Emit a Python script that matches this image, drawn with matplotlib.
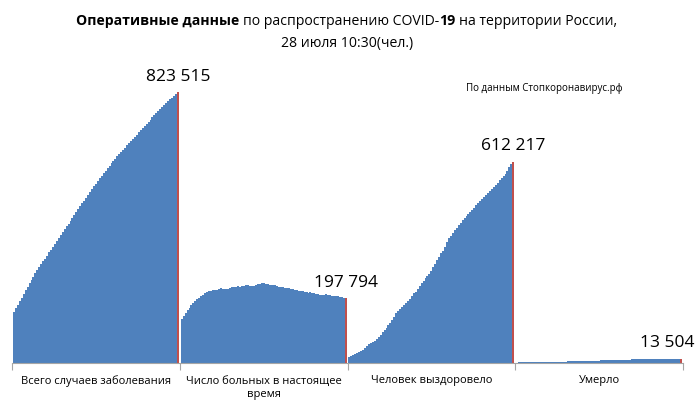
import numpy as np
import matplotlib
matplotlib.use("Agg")
import matplotlib.pyplot as plt

plt.rcParams['font.family'] = ['Open Sans', 'DejaVu Sans']

# категории (группы столбиков)
categories = ["Всего случаев заболевания", "Число больных в настоящее\nвремя",
              "Человек выздоровело", "Умерло"]

# ежедневные значения с 5 мая по 28 июля
total = [155370, 165929, 177160, 187859, 198676, 209688, 221344, 232243, 242271, 252245,
         262843, 272043, 281752, 290678, 299941, 308705, 317554, 326448, 335882, 344481,
         353427, 362342, 370680, 379051, 387623, 396575, 405843, 414878, 423741, 432277,
         440538, 449256, 458102, 467073, 476043, 485253, 493657, 502436, 511423, 520129,
         528964, 537210, 545458, 553301, 561091, 569063, 576952, 584680, 592280, 599705,
         606881, 613994, 620794, 627646, 634437, 641156, 647849, 654405, 661165, 667883,
         674515, 681251, 687862, 694230, 700792, 707301, 713936, 720547, 727162, 733699,
         739947, 746369, 752797, 759203, 765437, 771546, 777486, 783328, 789190, 795038,
         800849, 806720, 812485, 818120, 823515]

active = [134000, 143200, 152500, 160400, 168400, 176000, 183000, 187900, 193800, 197700,
          203000, 206900, 212600, 216200, 217900, 219600, 220400, 221000, 222800, 224600,
          227400, 226000, 224300, 225000, 226200, 228500, 230400, 230000, 231300, 233400,
          232000, 232700, 234500, 237600, 236400, 235300, 234200, 234900, 236800, 239200,
          241300, 243300, 241800, 240200, 238700, 237900, 236800, 237500, 236100, 234200,
          232400, 230700, 229800, 228600, 229300, 227400, 225900, 224300, 222700, 221900,
          220200, 219500, 217300, 216100, 215000, 214200, 215000, 213300, 212100, 210700,
          209500, 207800, 206900, 207700, 209100, 207600, 206200, 204800, 203900, 204600,
          202700, 201100, 199800, 199000, 197794]

recovered = [18000, 20500, 23500, 26300, 29000, 33000, 36800, 41000, 46000, 50900,
             56500, 61000, 64500, 67800, 72000, 80300, 86100, 93500, 99200, 107000,
             114600, 122000, 131000, 140800, 151500, 157000, 163200, 169800, 175000, 182300,
             189000, 195800, 204300, 212700, 217000, 224000, 233500, 242300, 248600, 256800,
             263600, 271000, 278400, 293000, 301200, 313000, 322400, 333200, 340000, 353400,
             367000, 378800, 385400, 395000, 403700, 411300, 418000, 425600, 433500, 440000,
             447300, 453800, 459600, 466200, 472000, 479100, 486100, 492900, 499000, 505300,
             511400, 517200, 523100, 529000, 533500, 541000, 548300, 555000, 561500, 568400,
             574000, 584100, 594300, 603400, 612217]

deaths = [1451, 1537, 1625, 1723, 1827, 1915, 2009, 2116, 2212, 2305,
          2418, 2537, 2631, 2722, 2837, 2972, 3099, 3249, 3388, 3541,
          3633, 3807, 3968, 4142, 4374, 4555, 4693, 4855, 5037, 5215,
          5384, 5520, 5725, 5859, 6000, 6142, 6358, 6532, 6715, 6829,
          7081, 7284, 7478, 7660, 7843, 8002, 8196, 8359, 8513, 8781,
          8969, 9152, 9320, 9536, 9683, 9859, 10027, 10296, 10494, 10667,
          10843, 11017, 11205, 11335, 11439, 11614, 11770, 11917, 12031, 12123,
          12247, 12342, 12427, 12580, 12745, 12892, 12965, 13026, 13099, 13172,
          13249, 13300, 13354, 13430, 13504]

series = [total, active, recovered, deaths]
labels = ["823 515", "197 794", "612 217", "13 504"]

blue = "#4F81BD"
red = "#C0504D"
W, H = 700, 412

fig = plt.figure(figsize=(7, 4.12), dpi=100)
ax = fig.add_axes([12 / W, (H - 363) / H, (683 - 12) / W, (363 - 60) / H])

S = 86  # слотов на группу
for g, vals in enumerate(series):
    n = len(vals)
    edges = g * S + 0.5 + np.arange(n + 1)
    # сплошные столбики без просветов: ступенчатая заливка, последний день - красный
    ax.stairs(vals[:-1], edges[:-1], fill=True, color=blue, linewidth=0)
    ax.bar(edges[-2], vals[-1], width=1.0, align='edge', color=red, linewidth=0)
    lab_dx = -10 if g == 3 else 0
    ax.annotate(labels[g], (edges[-2] + 0.5, vals[-1]), xytext=(lab_dx, 8),
                textcoords='offset points', ha='center', va='baseline', fontsize=12.5)

ax.set_xlim(0, 4 * S)
ax.set_ylim(0, 823515 * (363 - 60) / (363 - 92))
for s in ['top', 'right', 'left']:
    ax.spines[s].set_visible(False)
ax.spines['bottom'].set_color('#A6A6A6')
ax.spines['bottom'].set_zorder(3)
ax.set_yticks([])
ax.set_xticks([g * S for g in range(5)])
ax.set_xticklabels([])
ax.tick_params(axis='x', which='major', direction='out', length=5, color='#A6A6A6')
for g, c in enumerate(categories):
    ax.annotate(c, (g * S + S / 2, 0), xycoords=('data', 'axes fraction'),
                xytext=(0, -9), textcoords='offset points', ha='center', va='top',
                fontsize=8, linespacing=1.35)

# заголовок: жирные и обычные части
renderer = fig.canvas.get_renderer()

def title_line(parts, y_px, size):
    sp = fig.text(0, 0, "a a", fontsize=size).get_window_extent(renderer).width
    sp -= fig.text(0, 0, "aa", fontsize=size).get_window_extent(renderer).width
    for t in fig.texts[-2:]:
        t.remove()
    items = []
    for txt, weight, gap in parts:
        t = fig.text(0, 1 - y_px / H, txt, fontsize=size, fontweight=weight,
                     ha='left', va='baseline')
        items.append((t, t.get_window_extent(renderer).width, gap))
    total_w = sum(w + (sp if gap else 0) for _, w, gap in items)
    x = 347 - total_w / 2
    for t, w, gap in items:
        if gap:
            x += sp
        t.set_x(x / W)
        x += w

title_line([("Оперативные данные", 'bold', False),
            ("по распространению COVID-", 'normal', True),
            ("19", 'bold', False),
            ("на территории России,", 'normal', True)], 25, 10.1)
title_line([("28 июля 10:30(чел.)", 'normal', False)], 47, 10.1)

fig.text(623 / W, 1 - 91 / H, "По данным Стопкоронавирус.рф", fontsize=7,
         ha='right', va='baseline')

fig.savefig("out.png", dpi=100)
